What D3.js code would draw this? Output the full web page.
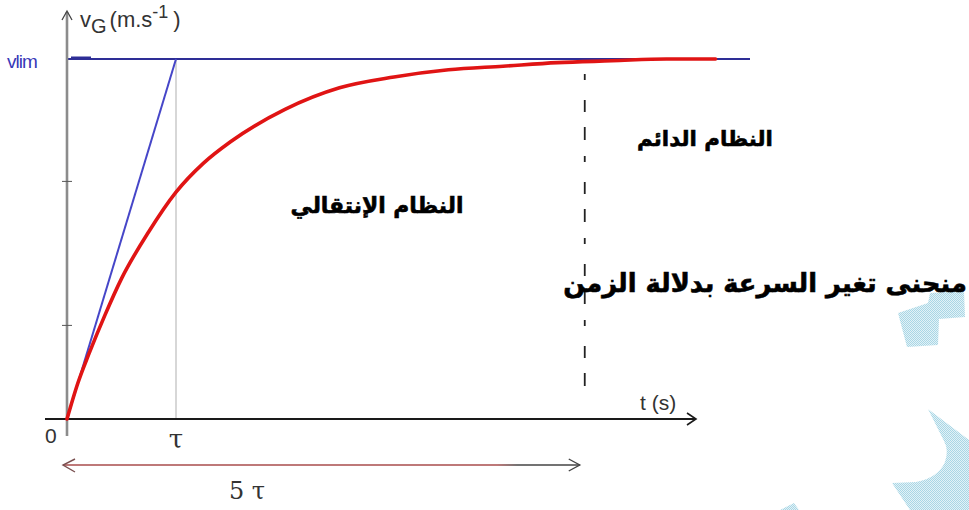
<!DOCTYPE html>
<html>
<head>
<meta charset="utf-8">
<script src="https://cdn.jsdelivr.net/npm/d3@7"></script>
<style>
  html, body { margin: 0; padding: 0; background: #fff; }
  svg { display: block; }
</style>
</head>
<body>
<svg id="chart" width="969" height="510"></svg>
<script>
// Velocity of the centre of mass vs time, in units of tau (t) and v_lim (v)
const timeTau   = [0, 0.1, 0.2, 0.35, 0.5, 0.75, 1, 1.25, 1.5, 2, 2.5, 3, 3.5, 4, 4.5, 5, 5.5, 5.95];
const velocity  = [0, 0.10, 0.18, 0.29, 0.39, 0.52, 0.63, 0.71, 0.77, 0.86, 0.92, 0.95, 0.97, 0.98, 0.99, 0.995, 1.0, 1.0];

// Tangent at the origin reaches v_lim at t = tau
const tangentT  = [0, 1];
const tangentV  = [0, 1];

// Reference marks
const vLimit      = 1;
const tauMark     = 1;
const steadyStart = 4.75;       // where the steady regime is drawn to begin ("5 tau")
const yTicks      = [0.26, 0.66];

// Labels
const axisLabelY  = { main: "v", sub: "G", unit: "(m.s", sup: "-1", close: ")" };
const axisLabelX  = "t (s)";
const limitLabel  = "vlim";
const originLabel = "0";
const tauLabel    = "τ";
const fiveTauLabel = "5 τ";
const regimeSteady    = "النظام الدائم";
const regimeTransient = "النظام الإنتقالي";
const curveTitle      = "منحنى تغير السرعة بدلالة الزمن";

const svg = d3.select("#chart");

// Scales
const x = d3.scaleLinear().domain([0, 1]).range([67, 176]);
const y = d3.scaleLinear().domain([0, 1]).range([419, 59]);

// Decorative light-blue shapes in the lower right corner
const defs = svg.append("defs");
const pat = defs.append("pattern").attr("id", "stip")
  .attr("width", 2).attr("height", 2).attr("patternUnits", "userSpaceOnUse");
pat.append("rect").attr("width", 2).attr("height", 2).attr("fill", "#e2f2f7");
pat.append("rect").attr("width", 1).attr("height", 1).attr("fill", "#a9d6e5");
pat.append("rect").attr("x", 1).attr("y", 1).attr("width", 1).attr("height", 1).attr("fill", "#a9d6e5");

svg.append("path")
  .attr("d", "M898,313 L928,303 L930,293 L964,291 L965,317 L939,319 L938,345 L907,347 Z")
  .attr("fill", "url(#stip)");
svg.append("path")
  .attr("d", "M928,409 L969,440 L969,510 L910,510 L892,483 L916,482 Q938,478 945,462 Q949,450 944,441 Z")
  .attr("fill", "url(#stip)");
svg.append("path")
  .attr("d", "M780,510 L794,503 L799,510 Z")
  .attr("fill", "url(#stip)");

// Gradient for the 5 tau double arrow
const grad = defs.append("linearGradient").attr("id", "arrowGrad")
  .attr("gradientUnits", "userSpaceOnUse")
  .attr("x1", x(0) - 4).attr("x2", x(steadyStart) - 5).attr("y1", 0).attr("y2", 0);
grad.append("stop").attr("offset", "0%").attr("stop-color", "#a84c4c");
grad.append("stop").attr("offset", "84%").attr("stop-color", "#a84c4c");
grad.append("stop").attr("offset", "88%").attr("stop-color", "#444");
grad.append("stop").attr("offset", "100%").attr("stop-color", "#444");

// Vertical guide at t = tau
svg.append("line")
  .attr("x1", x(tauMark)).attr("x2", x(tauMark))
  .attr("y1", y(vLimit)).attr("y2", y(0))
  .attr("stroke", "#bdbdbd").attr("stroke-width", 1.2);

// Horizontal asymptote v = v_lim
svg.append("line")
  .attr("x1", x(0)).attr("x2", 750)
  .attr("y1", y(vLimit)).attr("y2", y(vLimit))
  .attr("stroke", "#2e2e96").attr("stroke-width", 1.8);
svg.append("line")
  .attr("x1", x(0) + 4).attr("x2", x(0) + 24)
  .attr("y1", y(vLimit) - 1).attr("y2", y(vLimit) - 1)
  .attr("stroke", "#2e2e96").attr("stroke-width", 3);

// Dashed line at the start of the steady regime
svg.append("line")
  .attr("x1", x(steadyStart)).attr("x2", x(steadyStart))
  .attr("y1", 74).attr("y2", 393)
  .attr("stroke", "#222").attr("stroke-width", 1.8)
  .attr("stroke-dasharray", "6,20,12,15,13,16");

// Y axis (grey) with arrow
svg.append("line")
  .attr("x1", x(0)).attr("x2", x(0)).attr("y1", 436).attr("y2", 12)
  .attr("stroke", "#8c8c8c").attr("stroke-width", 2.6);
svg.append("path")
  .attr("d", `M${x(0) - 5},20 L${x(0)},11 L${x(0) + 5},20`)
  .attr("fill", "none").attr("stroke", "#444").attr("stroke-width", 1.3);
svg.selectAll(".ytick").data(yTicks).enter().append("line")
  .attr("x1", x(0) - 5).attr("x2", x(0) + 5)
  .attr("y1", d => y(d)).attr("y2", d => y(d))
  .attr("stroke", "#555").attr("stroke-width", 1);

// X axis (black) with arrow
svg.append("line")
  .attr("x1", 45).attr("x2", 695).attr("y1", y(0)).attr("y2", y(0))
  .attr("stroke", "#1a1a1a").attr("stroke-width", 2);
svg.append("path")
  .attr("d", `M687,${y(0) - 6} L696,${y(0)} L687,${y(0) + 6}`)
  .attr("fill", "none").attr("stroke", "#1a1a1a").attr("stroke-width", 1.6);

// Tangent at the origin
const line = d3.line().x(d => x(d[0])).y(d => y(d[1]));
svg.append("path")
  .datum(d3.zip(tangentT, tangentV))
  .attr("d", line)
  .attr("fill", "none").attr("stroke", "#4646c8").attr("stroke-width", 2);

// Velocity curve
const curve = d3.line().x(d => x(d[0])).y(d => y(d[1])).curve(d3.curveMonotoneX);
svg.append("path")
  .datum(d3.zip(timeTau, velocity))
  .attr("d", curve)
  .attr("fill", "none").attr("stroke", "#e01414").attr("stroke-width", 3.6)
  .attr("stroke-linecap", "round");

// 5 tau double arrow
const ay = 465;
svg.append("line")
  .attr("x1", x(0) - 4).attr("x2", x(steadyStart) - 5)
  .attr("y1", ay).attr("y2", ay)
  .attr("stroke", "url(#arrowGrad)").attr("stroke-width", 1.6);
svg.append("path")
  .attr("d", `M${x(0) + 8},${ay - 6} L${x(0) - 4},${ay} L${x(0) + 8},${ay + 7}`)
  .attr("fill", "none").attr("stroke", "#7a5050").attr("stroke-width", 1.4);
svg.append("path")
  .attr("d", `M${x(steadyStart) - 16},${ay - 6} L${x(steadyStart) - 5},${ay} L${x(steadyStart) - 16},${ay + 6}`)
  .attr("fill", "none").attr("stroke", "#444").attr("stroke-width", 1.4);

// Axis labels
const lbl = svg.append("g").attr("font-family", "Liberation Sans, Arial, sans-serif").attr("fill", "#333");
const yl = lbl.append("text").attr("x", 80).attr("y", 27).attr("font-size", 22);
yl.append("tspan").text(axisLabelY.main);
yl.append("tspan").attr("font-size", 20).attr("dy", 6).text(axisLabelY.sub);
yl.append("tspan").attr("dy", -6).attr("dx", 3).text(axisLabelY.unit);
yl.append("tspan").attr("font-size", 18).attr("dy", -9).text(axisLabelY.sup);
yl.append("tspan").attr("dy", 9).attr("dx", 5).text(axisLabelY.close);

lbl.append("text").attr("x", 7).attr("y", 68).attr("font-size", 19)
  .attr("fill", "#3838b8").attr("letter-spacing", -1).text(limitLabel);
lbl.append("text").attr("x", 45).attr("y", 443).attr("font-size", 21).text(originLabel);
lbl.append("text").attr("x", x(tauMark)).attr("y", 448).attr("text-anchor", "middle")
  .attr("font-family", "DejaVu Serif, serif").attr("font-size", 26).text(tauLabel);
lbl.append("text").attr("x", 640).attr("y", 410).attr("font-size", 21).text(axisLabelX);
lbl.append("text").attr("x", 247).attr("y", 499).attr("text-anchor", "middle")
  .attr("font-family", "DejaVu Serif, serif").attr("font-size", 24).text(fiveTauLabel);

// Arabic annotations, sized to their spans
function arabic(txt, cx, baseline, width) {
  const t = svg.append("text")
    .attr("x", cx).attr("y", baseline)
    .attr("text-anchor", "middle")
    .attr("font-family", "DejaVu Sans, sans-serif")
    .attr("font-weight", "bold")
    .attr("font-size", 20)
    .attr("fill", "#000")
    .attr("stroke", "#000").attr("stroke-width", 0.6)
    .text(txt);
  const w = t.node().getComputedTextLength();
  t.attr("font-size", 20 * width / w);
  return t;
}
arabic(regimeSteady, 705, 146, 136);
arabic(regimeTransient, 377, 213, 173);
arabic(curveTitle, 765, 292, 404);
</script>
</body>
</html>
